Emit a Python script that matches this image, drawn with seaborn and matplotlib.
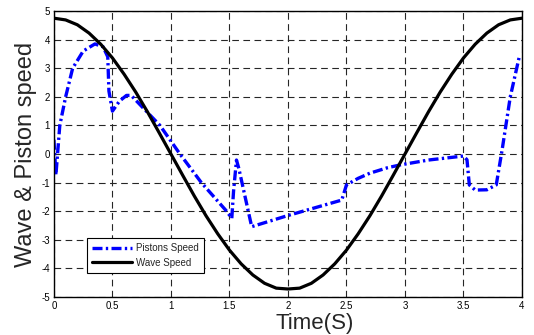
import pandas as pd
import matplotlib
matplotlib.use('Agg')
import matplotlib.pyplot as plt
import seaborn as sns

# piston speed
piston_t = [0.0, 0.017, 0.05, 0.10, 0.16, 0.25, 0.35, 0.42, 0.46, 0.47, 0.50, 0.56, 0.62, 0.66,
            0.906, 1.077, 1.26, 1.476, 1.52, 1.535, 1.56, 1.58, 1.69, 2.0, 2.46, 2.50, 2.6, 2.70,
            2.85, 2.96, 3.2, 3.5, 3.53, 3.55, 3.60, 3.7, 3.78, 3.83, 3.90, 3.98]
piston_v = [0.5, -0.73, 1.0, 2.0, 3.0, 3.6, 3.85, 3.75, 3.4, 2.2, 1.5, 1.85, 2.05, 2.05,
            1.0, 0.0, -1.0, -2.0, -2.25, -1.3, -0.21, -0.5, -2.54, -2.15, -1.61, -1.08, -0.85, -0.67,
            -0.48, -0.38, -0.21, -0.07, -0.2, -1.08, -1.26, -1.25, -1.08, 0.14, 2.0, 3.46]

# wave speed
wave_t = [0.0, 0.1, 0.2, 0.3, 0.4, 0.5, 0.6, 0.7, 0.8, 0.9, 1.0, 1.1, 1.2, 1.3, 1.4, 1.5, 1.6,
          1.7, 1.8, 1.9, 2.0, 2.1, 2.2, 2.3, 2.4, 2.5, 2.6, 2.7, 2.8, 2.9, 3.0, 3.1, 3.2, 3.3,
          3.4, 3.5, 3.6, 3.7, 3.8, 3.9, 4.0]
wave_v = [4.75, 4.69, 4.52, 4.23, 3.84, 3.36, 2.79, 2.16, 1.47, 0.74, 0.0, -0.74, -1.47, -2.16,
          -2.79, -3.36, -3.84, -4.23, -4.52, -4.69, -4.72, -4.69, -4.52, -4.23, -3.84, -3.36,
          -2.79, -2.16, -1.47, -0.74, 0.0, 0.74, 1.47, 2.16, 2.79, 3.36, 3.84, 4.23, 4.52, 4.69, 4.75]

x_ticks = [0, 0.5, 1, 1.5, 2, 2.5, 3, 3.5, 4]
x_labels = ['0', '0.5', '1', '1.5', '2', '2.5', '3', '3.5', '4']
y_ticks = [-5, -4, -3, -2, -1, 0, 1, 2, 3, 4, 5]

sns.set_style('white')
plt.rcParams['font.family'] = ['Liberation Sans', 'DejaVu Sans']
plt.rcParams['axes.unicode_minus'] = False

fig = plt.figure(figsize=(5.34, 3.35), dpi=100)
ax = fig.add_axes([0.101, 0.1134, 0.8765, 0.8536])

sns.lineplot(x=piston_t, y=piston_v, ax=ax, color='#0000ff', lw=2.4,
             linestyle=(0, (3.0, 1.0, 0.7, 1.0)), label='Pistons Speed', sort=False)
sns.lineplot(x=wave_t, y=wave_v, ax=ax, color='black', lw=2.3, label='Wave Speed', sort=False)

ax.set_xlim(0, 4)
ax.set_ylim(-5, 5)
ax.set_xticks(x_ticks)
ax.set_xticklabels(x_labels)
ax.set_yticks(y_ticks)
ax.tick_params(direction='in', length=3, width=0.8, labelsize=7, colors='black', pad=3)
ax.grid(True, color='0.15', lw=0.8, linestyle=(0, (6, 4)))
for s in ax.spines.values():
    s.set_color('black')
    s.set_linewidth(1.0)

ax.set_xlabel('Time(S)', fontsize=16)
ax.xaxis.set_label_coords(0.558, -0.055)
ax.set_ylabel('Wave & Piston speed', fontsize=17, labelpad=3)

leg = ax.legend(loc='lower left', bbox_to_anchor=(0.07, 0.085), fontsize=7, frameon=True,
                fancybox=False, shadow=False, handlelength=4.2, borderpad=0.5,
                labelspacing=0.5, handletextpad=0.4, borderaxespad=0)
leg.get_frame().set_edgecolor('black')
leg.get_frame().set_linewidth(0.8)
leg.get_frame().set_alpha(1)

fig.savefig('out.png', dpi=100)
